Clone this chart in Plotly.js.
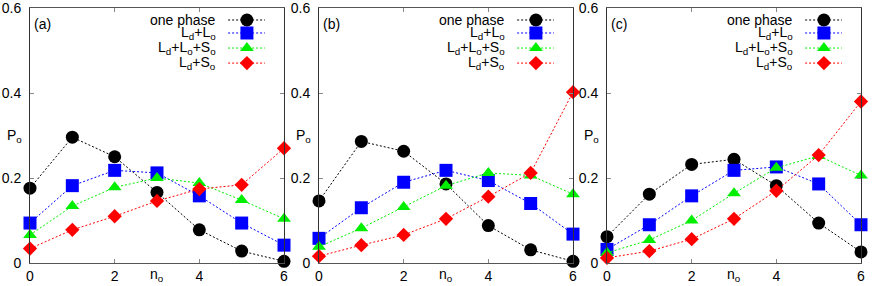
<!DOCTYPE html>
<html>
<head>
<meta charset="utf-8">
<script src="https://cdn.plot.ly/plotly-3.0.1.min.js"></script>
<style>html,body{margin:0;padding:0;background:#fff}#chart{width:872px;height:286px}</style>
</head>
<body>
<div id="chart"></div>
<script>
// ---- data ----
const nO = [0, 1, 2, 3, 4, 5, 6];
const panelLabels = ["(a)", "(b)", "(c)"];
const seriesNames = ["one phase", "L<sub>d</sub>+L<sub>o</sub>", "L<sub>d</sub>+L<sub>o</sub>+S<sub>o</sub>", "L<sub>d</sub>+S<sub>o</sub>"];
const xTickVals = [0, 2, 4, 6];
const xTickText = ["0", "2", "4", "6"];
const yTickVals = [0, 0.2, 0.4, 0.6];
const yTickText = ["0", "0.2", "0.4", "0.6"];

const onePhaseA = [0.176, 0.296, 0.250, 0.166, 0.078, 0.028, 0.004];
const ldLoA     = [0.094, 0.182, 0.218, 0.212, 0.158, 0.094, 0.042];
const ldLoSoA   = [0.066, 0.134, 0.178, 0.200, 0.188, 0.148, 0.104];
const ldSoA     = [0.034, 0.078, 0.110, 0.146, 0.174, 0.184, 0.270];

const onePhaseB = [0.146, 0.286, 0.263, 0.186, 0.088, 0.031, 0.004];
const ldLoB     = [0.058, 0.130, 0.190, 0.218, 0.194, 0.140, 0.068];
const ldLoSoB   = [0.038, 0.082, 0.132, 0.182, 0.212, 0.206, 0.162];
const ldSoB     = [0.016, 0.042, 0.066, 0.104, 0.156, 0.212, 0.402];

const onePhaseC = [0.062, 0.162, 0.232, 0.244, 0.182, 0.094, 0.026];
const ldLoC     = [0.032, 0.090, 0.158, 0.218, 0.226, 0.186, 0.090];
const ldLoSoC   = [0.024, 0.054, 0.100, 0.164, 0.224, 0.252, 0.206];
const ldSoC     = [0.012, 0.028, 0.056, 0.104, 0.170, 0.254, 0.380];

const panels = [
  [onePhaseA, ldLoA, ldLoSoA, ldSoA],
  [onePhaseB, ldLoB, ldLoSoB, ldSoB],
  [onePhaseC, ldLoC, ldLoSoC, ldSoC]
];

// ---- styles ----
const colors = ["#000000", "#0000ff", "#00ee00", "#ff0000"];
const symbols = ["circle", "square", "triangle-up", "diamond"];
const sizes = [13, 13, 12, 11];
const FONT = "Liberation Sans, Arial, Helvetica, sans-serif";
const W = 872, H = 286;
const xDomains = [[30 / W, 284 / W], [319 / W, 573 / W], [607 / W, 861 / W]];
const yDomain = [23 / H, 278 / H];
const XR = [0, 6], YR = [0, 0.6];
const legX0 = 0.780, legXm = 0.854, legX1 = 0.925, legTextX = 0.742;
const legRows = [0.953, 0.902, 0.843, 0.784];

const traces = [];
const layout = {
  width: W, height: H,
  margin: {l: 0, r: 0, t: 0, b: 0},
  paper_bgcolor: "#fff", plot_bgcolor: "#fff",
  showlegend: false,
  font: {family: FONT, size: 14, color: "#000"},
  annotations: [],
  shapes: []
};

panels.forEach((series, p) => {
  const xa = p === 0 ? "x" : "x" + (p + 1);
  const ya = p === 0 ? "y" : "y" + (p + 1);
  const xkey = p === 0 ? "xaxis" : "xaxis" + (p + 1);
  const ykey = p === 0 ? "yaxis" : "yaxis" + (p + 1);
  series.forEach((vals, s) => {
    traces.push({
      x: nO, y: vals, xaxis: xa, yaxis: ya, type: "scatter", mode: "lines+markers",
      line: {color: colors[s], width: 1, dash: "2px,2px"},
      marker: {color: colors[s], symbol: symbols[s], size: sizes[s], line: {width: 0}},
      cliponaxis: false, hoverinfo: "skip"
    });
    // legend sample (positioned in axis-fraction units)
    const lx = [legX0, legXm, legX1].map(f => XR[0] + f * (XR[1] - XR[0]));
    const ly = legRows[s] * (YR[1] - YR[0]) + YR[0];
    traces.push({
      x: lx, y: [ly, ly, ly], xaxis: xa, yaxis: ya, type: "scatter", mode: "lines",
      line: {color: colors[s], width: 1, dash: "2px,2px"}, hoverinfo: "skip"
    });
    traces.push({
      x: [lx[1]], y: [ly], xaxis: xa, yaxis: ya, type: "scatter", mode: "markers",
      marker: {color: colors[s], symbol: symbols[s], size: sizes[s], line: {width: 0}},
      hoverinfo: "skip"
    });
    layout.annotations.push({
      xref: xa + " domain", yref: ya + " domain", x: legTextX, y: legRows[s],
      xanchor: "right", yanchor: "middle", showarrow: false, text: seriesNames[s],
      font: {family: FONT, size: 14, color: "#000"}
    });
  });
  layout[xkey] = {
    domain: xDomains[p], anchor: ya, range: XR, fixedrange: true,
    tickvals: xTickVals, ticktext: xTickText, ticks: "inside", ticklen: 4, tickcolor: "#888",
    showline: true, linecolor: "#555", linewidth: 1, mirror: "ticks", showgrid: false, zeroline: false,
    tickfont: {family: FONT, size: 14, color: "#000"}, ticklabeloverflow: "allow"
  };
  layout[ykey] = {
    domain: yDomain, anchor: xa, range: YR, fixedrange: true,
    tickvals: yTickVals, ticktext: yTickText, ticks: "inside", ticklen: 4, tickcolor: "#888",
    showline: true, linecolor: "#333", linewidth: 1, mirror: "ticks", showgrid: false, zeroline: false,
    tickfont: {family: FONT, size: 14, color: "#000"}, ticklabelstandoff: 5,
    ticklabeloverflow: "allow"
  };
  layout.annotations.push({
    xref: xa + " domain", yref: ya + " domain", x: 0, y: 1, xanchor: "left", yanchor: "top",
    xshift: 2, yshift: -6, showarrow: false, text: panelLabels[p],
    font: {family: FONT, size: 14, color: "#000"}
  });
  layout.annotations.push({
    xref: xa, yref: "paper", x: 3, y: 11 / H, xanchor: "center", yanchor: "middle",
    showarrow: false, text: "n<sub>o</sub>", font: {family: FONT, size: 14, color: "#000"}
  });
  layout.annotations.push({
    xref: xa, yref: ya, x: 0, y: 0.3, xanchor: "center", yanchor: "middle", xshift: -16,
    showarrow: false, text: "P<sub>o</sub>", font: {family: FONT, size: 14, color: "#000"}
  });
});

Plotly.newPlot("chart", traces, layout, {staticPlot: true, displayModeBar: false});
</script>
</body>
</html>
